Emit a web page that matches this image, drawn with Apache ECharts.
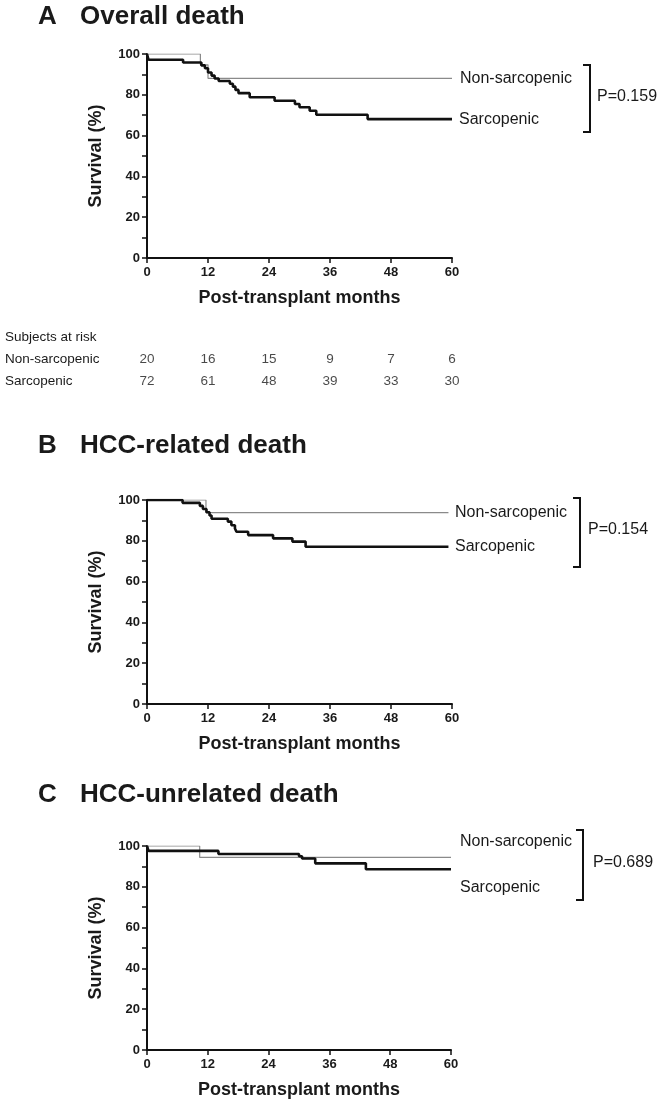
<!DOCTYPE html>
<html>
<head>
<meta charset="utf-8">
<script src="https://cdn.jsdelivr.net/npm/echarts@6/dist/echarts.min.js"></script>
<style>
html,body{margin:0;padding:0;background:#fff;}
#c{width:666px;height:1107px;}
</style>
</head>
<body>
<div id="c"></div>
<script>
// ---------- data ----------
const xTicks = [0, 12, 24, 36, 48, 60];
const riskTimes = [0, 12, 24, 36, 48, 60];
const riskNon = [20, 16, 15, 9, 7, 6];
const riskSarc = [72, 61, 48, 39, 33, 30];

// Panel A: overall death
const aSarcT = [0, 0.3, 7.1, 10.7, 11.4, 12.0, 12.7, 13.3, 14.1, 16.3, 16.9, 17.4, 18.0, 20.2, 25.1, 29.1, 30.0, 32.0, 33.3, 43.4, 60];
const aSarcS = [100, 97.2, 95.8, 94.4, 93.0, 90.9, 89.4, 88.0, 86.8, 85.4, 84.0, 82.4, 80.8, 78.8, 77.1, 75.5, 73.9, 72.2, 70.2, 68.1, 68.1];
const aNonT = [0, 10.5, 12.0, 60];
const aNonS = [100, 94.7, 88.1, 88.1];

// Panel B: HCC-related death
const bSarcT = [0, 7.0, 10.4, 11.0, 11.7, 12.3, 12.7, 15.9, 16.6, 17.3, 17.6, 19.9, 24.8, 28.6, 31.2, 59.3];
const bSarcS = [100, 98.6, 97.1, 95.6, 94.0, 92.4, 90.8, 89.4, 87.6, 86.0, 84.4, 82.8, 81.2, 79.6, 77.1, 77.1];
const bNonT = [0, 11.6, 59.3];
const bNonS = [100, 93.8, 93.8];

// Panel C: HCC-unrelated death
const cSarcT = [0, 0.3, 14.1, 30.0, 30.6, 33.2, 43.2, 60];
const cSarcS = [100, 97.6, 96.1, 95.0, 93.9, 91.5, 88.6, 88.6];
const cNonT = [0, 10.4, 60];
const cNonS = [100, 94.4, 94.4];

const panelTitles = [['A', 'Overall death'], ['B', 'HCC-related death'], ['C', 'HCC-unrelated death']];
const pValues = ['P=0.159', 'P=0.154', 'P=0.689'];
const groupNames = ['Non-sarcopenic', 'Sarcopenic'];

// ---------- styling ----------
const FONT = '"Liberation Sans", Arial, sans-serif';
const TXT = '#1a1a1a';
const AX = '#111';

const grids = [
  {left: 147, right: 214, top: 54, height: 204},
  {left: 147, right: 214, top: 500, height: 204},
  {left: 147, right: 215, top: 846, height: 204},
  {left: 147, right: 214, top: 348, height: 44}
];

function xAx(i) {
  return {
    gridIndex: i, type: 'value', min: 0, max: 60, interval: 12,
    name: 'Post-transplant months', nameLocation: 'middle', nameGap: 31,
    nameTextStyle: {fontSize: 18, fontWeight: 'bold', fontFamily: FONT, color: TXT},
    axisLine: {lineStyle: {color: AX, width: 2}},
    axisTick: {length: 5, lineStyle: {color: AX, width: 1.5}},
    axisLabel: {margin: 8, fontSize: 13, fontWeight: 'bold', fontFamily: FONT, color: TXT},
    splitLine: {show: false}
  };
}
function yAx(i) {
  return {
    gridIndex: i, type: 'value', min: 0, max: 100, interval: 10,
    name: 'Survival (%)', nameLocation: 'middle', nameGap: 42,
    nameTextStyle: {fontSize: 18, fontWeight: 'bold', fontFamily: FONT, color: TXT},
    axisLine: {show: true, lineStyle: {color: AX, width: 2}},
    axisTick: {show: true, length: 5, lineStyle: {color: AX, width: 1.5}},
    axisLabel: {margin: 7, fontSize: 13, fontWeight: 'bold', fontFamily: FONT, color: TXT,
      formatter: v => (v % 20 === 0 ? String(v) : '')},
    splitLine: {show: false}
  };
}
const zip = (t, s) => t.map((v, i) => [v, s[i]]);
function km(i, t, s, thick) {
  return {
    type: 'line', step: 'end', xAxisIndex: i, yAxisIndex: i,
    data: zip(t, s), symbol: 'none', showSymbol: false, animation: false,
    lineStyle: thick ? {color: '#111', width: 2.6} : {color: '#8a8a8a', width: 1.2},
    z: thick ? 3 : 2
  };
}
function riskSeries(row, counts) {
  return {
    type: 'scatter', xAxisIndex: 3, yAxisIndex: 3, animation: false,
    data: riskTimes.map((t, i) => [t, row, counts[i]]),
    encode: {x: 0, y: 1},
    symbolSize: 1, itemStyle: {color: 'rgba(0,0,0,0)'},
    label: {show: true, position: 'inside', formatter: p => String(p.data[2]),
      fontSize: 13.5, fontFamily: FONT, color: TXT}
  };
}

function txt(text, x, y, size, bold, extra) {
  return Object.assign({
    type: 'text', silent: true,
    style: {text: text, x: x, y: y, fontSize: size, fontWeight: bold ? 'bold' : 'normal',
      fontFamily: FONT, fill: TXT, align: 'left', verticalAlign: 'middle'}
  }, extra || {});
}
function bracket(x, y1, y2) {
  return {type: 'polyline', silent: true,
    shape: {points: [[x - 7, y1], [x, y1], [x, y2], [x - 7, y2]]},
    style: {stroke: AX, lineWidth: 2, fill: null}};
}

const titleY = [16.5, 446, 795];
const graphics = [];
titleY.forEach((y, i) => {
  graphics.push(txt(panelTitles[i][0], 38, y, 26, true));
  graphics.push(txt(panelTitles[i][1], 80, y, 26, true));
});
// group labels + p values
const labelPos = [
  {non: [460, 79], sar: [459, 120], p: [597, 97], br: [590, 65, 132]},
  {non: [455, 513], sar: [455, 547], p: [588, 530], br: [580, 498, 567]},
  {non: [460, 842], sar: [460, 888], p: [593, 863], br: [583, 830, 900]}
];
labelPos.forEach((L, i) => {
  graphics.push(txt(groupNames[0], L.non[0], L.non[1], 16, false));
  graphics.push(txt(groupNames[1], L.sar[0], L.sar[1], 16, false));
  graphics.push(txt(pValues[i], L.p[0], L.p[1], 16, false));
  graphics.push(bracket(L.br[0], L.br[1], L.br[2]));
});
graphics.push(txt('Subjects at risk', 5, 337, 13.5, false));

const chart = echarts.init(document.getElementById('c'), null, {renderer: 'canvas'});
chart.setOption({
  animation: false,
  backgroundColor: '#fff',
  grid: grids,
  xAxis: [xAx(0), xAx(1), xAx(2),
    {gridIndex: 3, type: 'value', min: 0, max: 60, show: false}],
  yAxis: [yAx(0), yAx(1), yAx(2),
    {gridIndex: 3, type: 'category', inverse: true, data: groupNames,
      axisLine: {show: false}, axisTick: {show: false}, splitLine: {show: false},
      axisLabel: {align: 'left', margin: 142, fontSize: 13.5, fontFamily: FONT, color: TXT}}],
  series: [
    km(0, aNonT, aNonS, false), km(0, aSarcT, aSarcS, true),
    km(1, bNonT, bNonS, false), km(1, bSarcT, bSarcS, true),
    km(2, cNonT, cNonS, false), km(2, cSarcT, cSarcS, true),
    riskSeries(groupNames[0], riskNon), riskSeries(groupNames[1], riskSarc)
  ],
  graphic: graphics
});
</script>
</body>
</html>
